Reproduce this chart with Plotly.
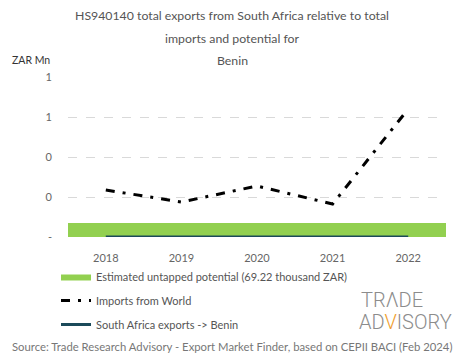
import plotly.graph_objects as go

years = ["2018", "2019", "2020", "2021", "2022"]
potential = [0.06922, 0.06922, 0.06922, 0.06922, 0.06922]
imports_world = [0.235, 0.175, 0.255, 0.165, 0.64]
sa_exports = [0.0, 0.0, 0.0, 0.0, 0.0]
ytick_vals = [0, 0.2, 0.4, 0.6, 0.8]
ytick_text = ["-", "0", "0", "1", "1"]

FONT = "Lato"
OFF = 8  # page body margin
W, H = 465 - OFF, 359 - OFF
# plot area in screen pixels
SX0, SX1, SY0, SY1 = 68, 446, 77, 237
L, R, T, B = SX0 - OFF, W - (SX1 - OFF), SY0 - OFF, H - (SY1 - OFF)
PW, PH = W - L - R, H - T - B


def px(xs):
    return (xs - OFF - L) / PW


def py(ys):
    return (H - B - (ys - OFF)) / PH


GREEN = "#92d050"
fig = go.Figure()
fig.add_trace(go.Bar(x=years, y=potential, width=1, marker=dict(color=GREEN, line=dict(width=0)),
                     name="Estimated untapped potential (69.22 thousand ZAR)", showlegend=False))
fig.add_trace(go.Scatter(x=[None], y=[None], mode="lines", fill="tozeroy", fillcolor=GREEN,
                         line=dict(width=0, color=GREEN),
                         name="Estimated untapped potential (69.22 thousand ZAR)", legendgroup="a"))
fig.add_trace(go.Scatter(x=years, y=imports_world, mode="lines",
                         line=dict(color="black", width=3, dash="9px,8px,3px,8px"),
                         name="Imports from World", legendgroup="b"))
fig.add_trace(go.Scatter(x=years, y=sa_exports, mode="lines",
                         line=dict(color="#1b4a5a", width=3),
                         name="South Africa exports -> Benin", legendgroup="c"))

title_lines = ["HS940140 total exports from South Africa relative to total",
               "imports and potential for", "Benin"]
title_y = [16, 38, 60]
ann = []
for t, yy in zip(title_lines, title_y):
    ann.append(dict(text=t, xref="paper", yref="paper", x=px(232), y=py(yy),
                    xanchor="center", yanchor="middle", showarrow=False, borderpad=0,
                    font=dict(family=FONT, size=12.3, color="#555")))
ann.append(dict(text="ZAR Mn", xref="paper", yref="paper", x=px(10), y=py(60),
                xanchor="left", yanchor="middle", showarrow=False,
                font=dict(family=FONT, size=10.5, color="#333")))
ann.append(dict(text="Source: Trade Research Advisory - Export Market Finder, based on CEPII BACI (Feb 2024)",
                xref="paper", yref="paper", x=px(232), y=py(346),
                xanchor="center", yanchor="middle", showarrow=False,
                font=dict(family=FONT, size=11.3, color="#777")))
ann.append(dict(text="TRΛDE", xref="paper", yref="paper", x=px(392), y=py(300),
                xanchor="center", yanchor="middle", showarrow=False,
                font=dict(family="Roboto", size=20, color="#8c8c8c", weight=300)))
ann.append(dict(text="AD<span style='color:#f0a030'>V</span>ISORY", xref="paper", yref="paper",
                x=px(405), y=py(322), xanchor="center", yanchor="middle", showarrow=False,
                font=dict(family="Roboto", size=20, color="#8c8c8c", weight=300)))

fig.update_layout(
    width=W, height=H, margin=dict(l=L, r=R, t=T, b=B, autoexpand=False),
    paper_bgcolor="white", plot_bgcolor="white", bargap=0,
    font=dict(family=FONT, size=11, color="#666"),
    showlegend=True,
    legend=dict(x=px(56), y=py(262),
                xanchor="left", yanchor="top", orientation="v", tracegroupgap=5,
                font=dict(family=FONT, size=11, color="#555"), itemwidth=30),
    annotations=ann,
    xaxis=dict(range=[-0.5, 4.5], showgrid=False, showline=False, ticks="",
               tickfont=dict(size=11, color="#666"), type="category", tickangle=0,
               ticklabelstandoff=13, automargin=False),
    yaxis=dict(range=[0, 0.8], tickvals=ytick_vals, ticktext=ytick_text, showgrid=True,
               gridcolor="#d9d9d9", griddash="dash", gridwidth=1, zeroline=False, showline=False,
               ticks="", ticklabelstandoff=15, tickfont=dict(size=11, color="#666"),
               automargin=False),
)
fig.write_html("out.html")
